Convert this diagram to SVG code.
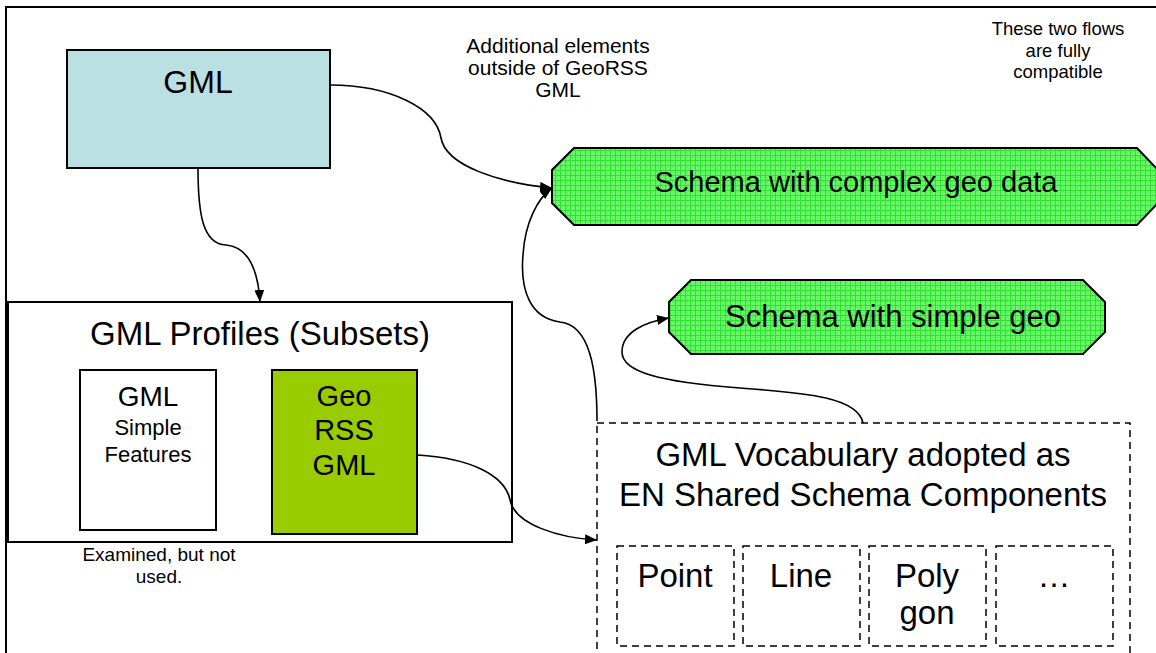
<svg xmlns="http://www.w3.org/2000/svg" width="1156" height="653" viewBox="0 0 1156 653">
<style>
text{font-family:"Liberation Sans",Arial,sans-serif;fill:#000;text-anchor:middle}
.box{stroke:#000;stroke-width:2}
.dash{fill:#fff;stroke:#000;stroke-width:1.5;stroke-dasharray:7 5}
.conn{fill:none;stroke:#000;stroke-width:1.6}
.oct{fill:url(#grid);stroke:#000;stroke-width:2}
</style>
<defs>
<pattern id="grid" width="5" height="5" patternUnits="userSpaceOnUse">
<rect width="5" height="5" fill="#6cf86c"/>
<path d="M0 0.5H5M0.5 0V5" stroke="#2fe02f" stroke-width="1"/>
<rect x="2" y="2" width="1" height="1" fill="#4aee4a"/>
</pattern>
<marker id="arr" viewBox="0 0 12 10" refX="12" refY="5" markerWidth="12" markerHeight="10" markerUnits="userSpaceOnUse" orient="auto">
<path d="M0 0L12 5L0 10z" fill="#000"/>
</marker>
</defs>
<path d="M6 653V7H1156" fill="none" stroke="#000" stroke-width="2"/>

<g id="note-additional">
<text x="558" y="53" font-size="21">Additional elements</text>
<text x="558" y="75" font-size="21">outside of GeoRSS</text>
<text x="558" y="97" font-size="21">GML</text>
</g>
<g id="note-compatible">
<text x="1058" y="35" font-size="18.5">These two flows</text>
<text x="1058" y="57" font-size="18.5">are fully</text>
<text x="1058" y="78" font-size="18.5">compatible</text>
</g>

<g id="gml">
<rect class="box" x="67" y="50" width="263" height="118" fill="#bbe0e3"/>
<text x="198" y="93" font-size="32">GML</text>
</g>

<g id="gml-profiles">
<rect class="box" x="8" y="302" width="504" height="240" fill="#fff"/>
<text x="260" y="345" font-size="33">GML Profiles (Subsets)</text>
</g>
<g id="gml-simple-features">
<rect class="box" x="80" y="370" width="136" height="160" fill="#fff"/>
<text x="148" y="406" font-size="28">GML</text>
<text x="148" y="435" font-size="22">Simple</text>
<text x="148" y="462" font-size="22">Features</text>
</g>
<g id="georss-gml">
<rect class="box" x="272" y="370" width="145" height="164" fill="#99cc00"/>
<text x="344" y="406" font-size="29">Geo</text>
<text x="344" y="440" font-size="29">RSS</text>
<text x="344" y="475" font-size="29">GML</text>
</g>
<g id="note-examined">
<text x="159" y="561" font-size="19">Examined, but not</text>
<text x="159" y="583" font-size="19">used.</text>
</g>

<g id="schema-complex">
<path class="oct" d="M574 148H1137L1158 170V203L1137 225H574L552 203V170z"/>
<text x="856" y="192" font-size="29">Schema with complex geo data</text>
</g>
<g id="schema-simple">
<path class="oct" d="M691 280H1083L1105 302V332L1083 354H691L669 332V302z"/>
<text x="893" y="327" font-size="31">Schema with simple geo</text>
</g>

<g id="gml-vocabulary">
<rect class="dash" x="597" y="423" width="533" height="240"/>
<text x="863" y="466" font-size="33">GML Vocabulary adopted as</text>
<text x="863" y="506" font-size="33">EN Shared Schema Components</text>
</g>
<g id="point"><rect class="dash" x="617" y="546" width="117" height="100"/><text x="675" y="587" font-size="33">Point</text></g>
<g id="line"><rect class="dash" x="743" y="546" width="117" height="100"/><text x="801" y="587" font-size="33">Line</text></g>
<g id="polygon"><rect class="dash" x="869" y="546" width="117" height="100"/><text x="927" y="587" font-size="33">Poly</text><text x="927" y="624" font-size="33">gon</text></g>
<g id="more"><rect class="dash" x="996" y="546" width="117" height="100"/><text x="1054" y="587" font-size="33">…</text></g>

<g id="connectors">
<path class="conn" marker-end="url(#arr)" d="M198 168C198 215 203 244 226 245C248 247 258 270 260 302"/>
<path class="conn" marker-end="url(#arr)" d="M330 85C390 85 436 108 441 138C446 166 500 183 552 188"/>
<path class="conn" marker-end="url(#arr)" d="M417 455C470 458 505 475 510 500C515 525 560 538 597 540"/>
<path class="conn" marker-end="url(#arr)" d="M597 421C597 370 590 325 560 322C530 318 520 290 523 255C525 222 538 198 552 188"/>
<path class="conn" marker-end="url(#arr)" d="M863 423C858 398 810 393 740 388C660 382 622 372 622 352C622 332 645 322 669 318"/>
</g>
</svg>
